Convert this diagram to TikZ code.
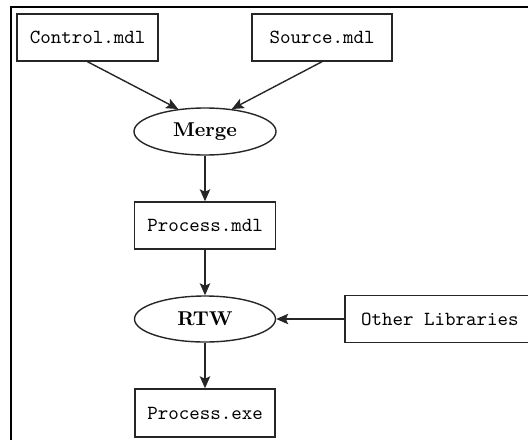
\documentclass[tikz,border=0pt]{standalone}
\usetikzlibrary{arrows.meta,shapes.geometric}
\begin{document}
\begin{tikzpicture}[x=1pt,y=1pt,
  every node/.style={line width=0.7pt, inner sep=0pt},
  filebox/.style={draw=black!85, rectangle, minimum width=70.5pt, minimum height=23.5pt, font=\ttfamily},
  tool/.style={draw=black!85, ellipse, minimum width=71pt, minimum height=23.5pt, font=\bfseries},
  conn/.style={draw=black!85, line width=0.7pt, -{Stealth[length=6pt,width=5.2pt,inset=1.2pt]}}]
\useasboundingbox (0,0) rectangle (264,-219.5);
\draw[line width=0.9pt] (5.5,-240) -- (5.5,-3.5) -- (300,-3.5);
\node[filebox] (ctrl) at (43.75,-18.75) {Control.mdl};
\node[filebox, minimum width=70pt] (src) at (161,-18.75) {Source.mdl};
\node[tool] (merge) at (102.5,-65.75) {Merge};
\node[filebox] (pmdl) at (102.5,-112.75) {Process.mdl};
\node[tool, minimum width=70.5pt, minimum height=23pt] (rtw) at (102.5,-159.5) {RTW};
\node[filebox, minimum width=94.75pt] (lib) at (219.9,-159.5) {Other Libraries};
\node[filebox, minimum width=70pt, minimum height=24pt] (pexe) at (102.5,-206.5) {Process.exe};
\draw[conn] (ctrl.south) -- (merge.140);
\draw[conn] (src.south) -- (merge.40);
\draw[conn] (merge) -- (pmdl);
\draw[conn] (pmdl) -- (rtw);
\draw[conn] (lib) -- (rtw);
\draw[conn] (rtw) -- (pexe);
\end{tikzpicture}
\end{document}
